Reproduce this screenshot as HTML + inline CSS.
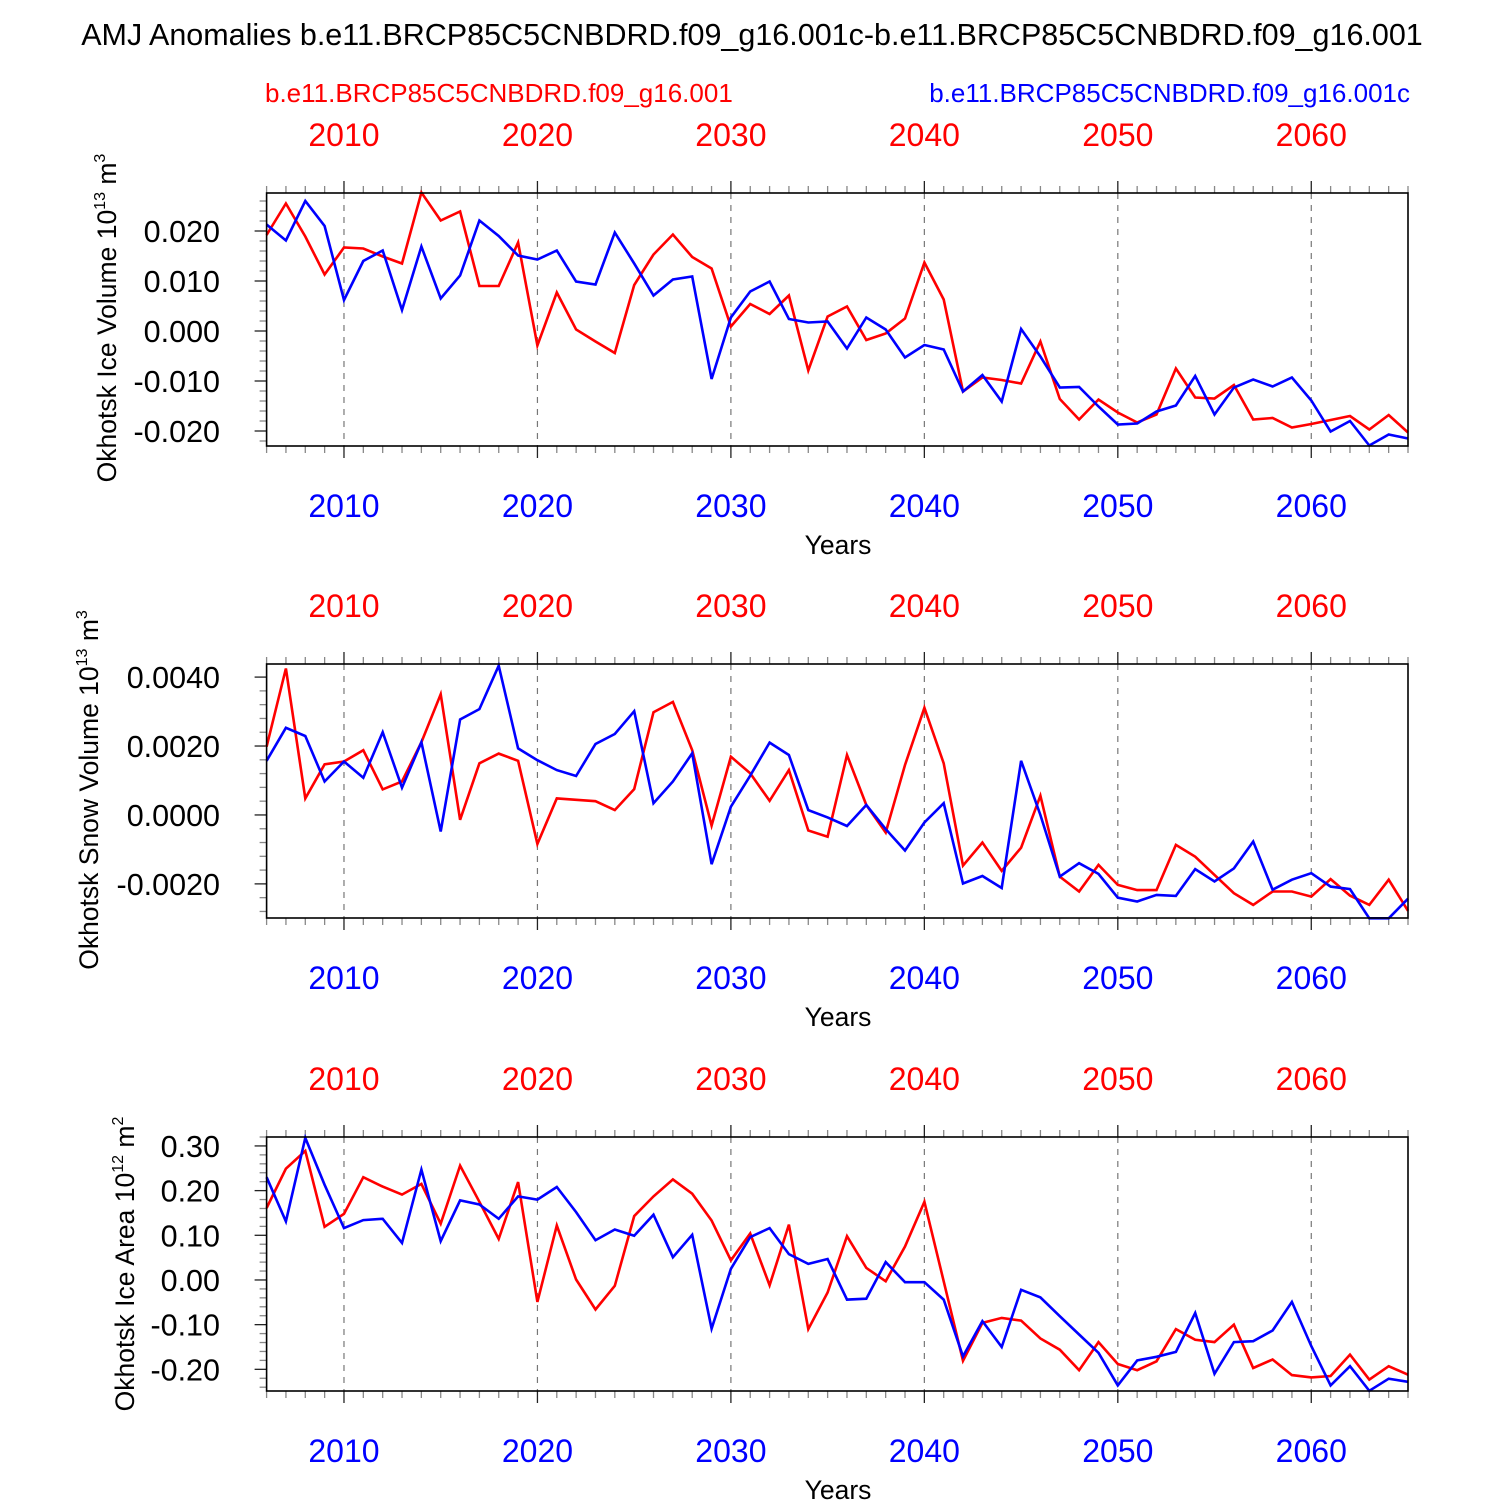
<!DOCTYPE html>
<html><head><meta charset="utf-8"><style>
html,body{margin:0;padding:0;background:#fff;}
svg{display:block;font-family:"Liberation Sans",Arial,sans-serif;}
</style></head><body>
<svg id="chart" width="1500" height="1500" viewBox="0 0 1500 1500" xmlns="http://www.w3.org/2000/svg">
<text x="752" y="45" font-size="30.5" text-anchor="middle">AMJ Anomalies b.e11.BRCP85C5CNBDRD.f09_g16.001c-b.e11.BRCP85C5CNBDRD.f09_g16.001</text>
<text x="265" y="102" font-size="26" fill="#ff0000">b.e11.BRCP85C5CNBDRD.f09_g16.001</text>
<text x="1410" y="102" font-size="26" fill="#0000ff" text-anchor="end">b.e11.BRCP85C5CNBDRD.f09_g16.001c</text>
</svg>
<script>
const years = [];
for (let y = 2006; y <= 2065; y++) years.push(y);
const xTickYears = [2010, 2020, 2030, 2040, 2050, 2060];

const iceVolRed = [0.0192,0.0255,0.0189,0.0113,0.0167,0.0165,0.0149,0.0135,0.0277,0.0221,0.0239,0.009,0.009,0.0177,-0.0029,0.0077,0.0003,-0.0021,-0.0044,0.0092,0.0153,0.0193,0.0148,0.0125,0.0009,0.0054,0.0034,0.0071,-0.0079,0.0029,0.0049,-0.0018,-0.0005,0.0025,0.0137,0.0063,-0.0121,-0.0093,-0.0098,-0.0105,-0.0021,-0.0136,-0.0177,-0.0137,-0.0163,-0.0183,-0.0167,-0.0075,-0.0133,-0.0135,-0.0108,-0.0177,-0.0174,-0.0193,-0.0186,-0.0178,-0.017,-0.0197,-0.0168,-0.0203];
const iceVolBlue = [0.0213,0.0181,0.026,0.021,0.0062,0.014,0.0161,0.0042,0.0169,0.0065,0.0111,0.0221,0.019,0.0151,0.0143,0.0161,0.0099,0.0093,0.0197,0.0135,0.0071,0.0103,0.0109,-0.0096,0.0027,0.0079,0.0099,0.0024,0.0017,0.0019,-0.0035,0.0027,0.0003,-0.0053,-0.0028,-0.0037,-0.0121,-0.0088,-0.0141,0.0004,-0.0051,-0.0113,-0.0112,-0.0151,-0.0187,-0.0185,-0.0161,-0.0149,-0.009,-0.0167,-0.0113,-0.0097,-0.0111,-0.0093,-0.0139,-0.0201,-0.018,-0.0229,-0.0207,-0.0215];
const iceVolTicks = [0.02,0.01,0,-0.01,-0.02];
const iceVolTickLabels = ["0.020","0.010","0.000","-0.010","-0.020"];

const snowVolRed = [0.00198,0.00425,0.00048,0.00147,0.00155,0.00188,0.00074,0.00097,0.00211,0.0035,-0.00014,0.0015,0.00178,0.00157,-0.00084,0.00048,0.00044,0.0004,0.00014,0.00075,0.00298,0.00328,0.00188,-0.00031,0.00169,0.00121,0.00041,0.0013,-0.00045,-0.00063,0.00174,0.00029,-0.00051,0.00145,0.00311,0.0015,-0.00147,-0.0008,-0.00162,-0.00095,0.00056,-0.00179,-0.00222,-0.00145,-0.00203,-0.00218,-0.00218,-0.00087,-0.00121,-0.00174,-0.00227,-0.00261,-0.00222,-0.00222,-0.00237,-0.00186,-0.00234,-0.00261,-0.00188,-0.00278];
const snowVolBlue = [0.00157,0.00253,0.00229,0.00097,0.00155,0.00108,0.0024,0.00079,0.00211,-0.00048,0.00277,0.00307,0.00433,0.00193,0.00159,0.0013,0.00113,0.00206,0.00235,0.00301,0.00034,0.00097,0.00179,-0.00143,0.00024,0.00114,0.0021,0.00174,0.00014,-0.00007,-0.00032,0.00029,-0.00041,-0.00103,-0.00022,0.00034,-0.00199,-0.00177,-0.00212,0.00157,0,-0.00179,-0.0014,-0.00171,-0.0024,-0.00251,-0.00232,-0.00235,-0.00157,-0.00193,-0.00155,-0.00077,-0.00217,-0.00188,-0.00169,-0.00208,-0.00215,-0.003,-0.003,-0.00243];
const snowVolTicks = [0.004,0.002,0,-0.002];
const snowVolTickLabels = ["0.0040","0.0020","0.0000","-0.0020"];

const iceAreaRed = [0.161,0.249,0.289,0.119,0.148,0.23,0.209,0.191,0.215,0.126,0.256,0.175,0.092,0.219,-0.049,0.122,0.001,-0.066,-0.013,0.143,0.187,0.225,0.193,0.133,0.044,0.104,-0.012,0.124,-0.11,-0.028,0.098,0.027,-0.003,0.075,0.175,-0.003,-0.181,-0.096,-0.085,-0.091,-0.131,-0.156,-0.202,-0.139,-0.188,-0.202,-0.182,-0.11,-0.134,-0.139,-0.1,-0.197,-0.178,-0.213,-0.218,-0.215,-0.167,-0.223,-0.193,-0.212];
const iceAreaBlue = [0.23,0.131,0.318,0.213,0.116,0.134,0.137,0.083,0.247,0.087,0.178,0.169,0.137,0.187,0.18,0.208,0.152,0.089,0.113,0.099,0.146,0.051,0.101,-0.109,0.025,0.096,0.116,0.058,0.036,0.047,-0.044,-0.042,0.04,-0.005,-0.005,-0.044,-0.171,-0.092,-0.15,-0.022,-0.039,-0.081,-0.122,-0.163,-0.236,-0.18,-0.172,-0.161,-0.074,-0.21,-0.139,-0.137,-0.113,-0.049,-0.148,-0.236,-0.193,-0.248,-0.221,-0.228];
const iceAreaTicks = [0.3,0.2,0.1,0,-0.1,-0.2];
const iceAreaTickLabels = ["0.30","0.20","0.10","0.00","-0.10","-0.20"];

const svg = document.getElementById('chart');
const NS = 'http://www.w3.org/2000/svg';
function mk(tag, attrs, parent) {
  const e = document.createElementNS(NS, tag);
  for (const k in attrs) e.setAttribute(k, attrs[k]);
  (parent || svg).appendChild(e);
  return e;
}
const X0 = 266.6, X1 = 1408;
function xScale(yr) { return X0 + (yr - 2006) * (X1 - X0) / 59; }

function panel(cfg) {
  const g = mk('g', {});
  
  
  const yScale = v => cfg.top + (cfg.vmax - v) * (cfg.bottom - cfg.top) / (cfg.vmax - cfg.vmin);
  xTickYears.forEach(yr => {
    const l = mk('line', {x1: xScale(yr), x2: xScale(yr), y1: cfg.top, y2: cfg.bottom, stroke: '#777', 'stroke-width': 1.2, 'stroke-dasharray': '6,6'}, g);
    
    
  });
  years.forEach(yr => {
    const major = yr % 10 === 0;
    const len = major ? 12 : 7;
    const col = major ? '#222' : '#888';
    mk('line', {x1: xScale(yr), x2: xScale(yr), y1: cfg.top, y2: cfg.top - len, stroke: col, 'stroke-width': 1.3}, g);
    mk('line', {x1: xScale(yr), x2: xScale(yr), y1: cfg.bottom, y2: cfg.bottom + len, stroke: col, 'stroke-width': 1.3}, g);
  });
  const step = cfg.minor;
  for (let v = Math.ceil(cfg.vmin / step) * step; v <= cfg.vmax + 1e-12; v += step) {
    const yy = yScale(v);
    const isMajor = cfg.ticks.some(t => Math.abs(t - v) < step / 10);
    mk('line', {x1: X0, x2: X0 - (isMajor ? 12 : 7), y1: yy, y2: yy, stroke: isMajor ? '#222' : '#888', 'stroke-width': 1.3}, g);
  }
  cfg.ticks.forEach((t, i) => {
    const tx = mk('text', {x: 220, y: yScale(t) + 11, 'font-size': 30.5, 'text-anchor': 'end'}, g);
    
    
    tx.textContent = cfg.labels[i];
  });
  xTickYears.forEach(yr => {
    const t1 = mk('text', {x: xScale(yr), y: cfg.top - 47, 'font-size': 32, 'text-anchor': 'middle', fill: '#ff0000'}, g);
    
    
    t1.textContent = yr;
    const t2 = mk('text', {x: xScale(yr), y: cfg.bottom + 71, 'font-size': 32, 'text-anchor': 'middle', fill: '#0000ff'}, g);
    
    
    t2.textContent = yr;
  });
  const xt = mk('text', {x: 838, y: cfg.bottom + 108, 'font-size': 26.5, 'text-anchor': 'middle'}, g);
  
  
  xt.textContent = 'Years';
  const yt = mk('text', {x: 0, y: 0, 'font-size': 26.5, 'text-anchor': 'middle', transform: `translate(${cfg.titleX},${cfg.titleY}) rotate(-90)`}, g);
  
  
  yt.innerHTML = cfg.title + ' 10<tspan dy="-11" font-size="16">' + cfg.exp + '</tspan><tspan dy="11"> m</tspan><tspan dy="-11" font-size="16">' + cfg.unitExp + '</tspan>';
  [[cfg.red, '#ff0000', 'red-series-line'], [cfg.blue, '#0000ff', 'blue-series-line']].forEach(([arr, col, nm]) => {
    const pts = arr.map((v, i) => xScale(years[i]).toFixed(1) + ',' + yScale(v).toFixed(1)).join(' ');
    const p = mk('polyline', {points: pts, fill: 'none', stroke: col, 'stroke-width': 2.6, 'stroke-linejoin': 'miter'}, g);
    
    
  });
  const r = mk('rect', {x: X0, y: cfg.top, width: X1 - X0, height: cfg.bottom - cfg.top, fill: 'none', stroke: '#000', 'stroke-width': 1.6}, g);
  
  
}

panel({name: 'ice-volume-panel', top: 193, bottom: 446, vmax: 0.0276, vmin: -0.0230, minor: 0.002,
  ticks: iceVolTicks, labels: iceVolTickLabels, red: iceVolRed, blue: iceVolBlue,
  title: 'Okhotsk Ice Volume', exp: '13', unitExp: '3', titleX: 116, titleY: 318});
panel({name: 'snow-volume-panel', top: 664, bottom: 918, vmax: 0.00438, vmin: -0.00299, minor: 0.0004,
  ticks: snowVolTicks, labels: snowVolTickLabels, red: snowVolRed, blue: snowVolBlue,
  title: 'Okhotsk Snow Volume', exp: '13', unitExp: '3', titleX: 98, titleY: 790});
panel({name: 'ice-area-panel', top: 1137, bottom: 1391, vmax: 0.320, vmin: -0.2485, minor: 0.02,
  ticks: iceAreaTicks, labels: iceAreaTickLabels, red: iceAreaRed, blue: iceAreaBlue,
  title: 'Okhotsk Ice Area', exp: '12', unitExp: '2', titleX: 134, titleY: 1264});
</script>
</body></html>
